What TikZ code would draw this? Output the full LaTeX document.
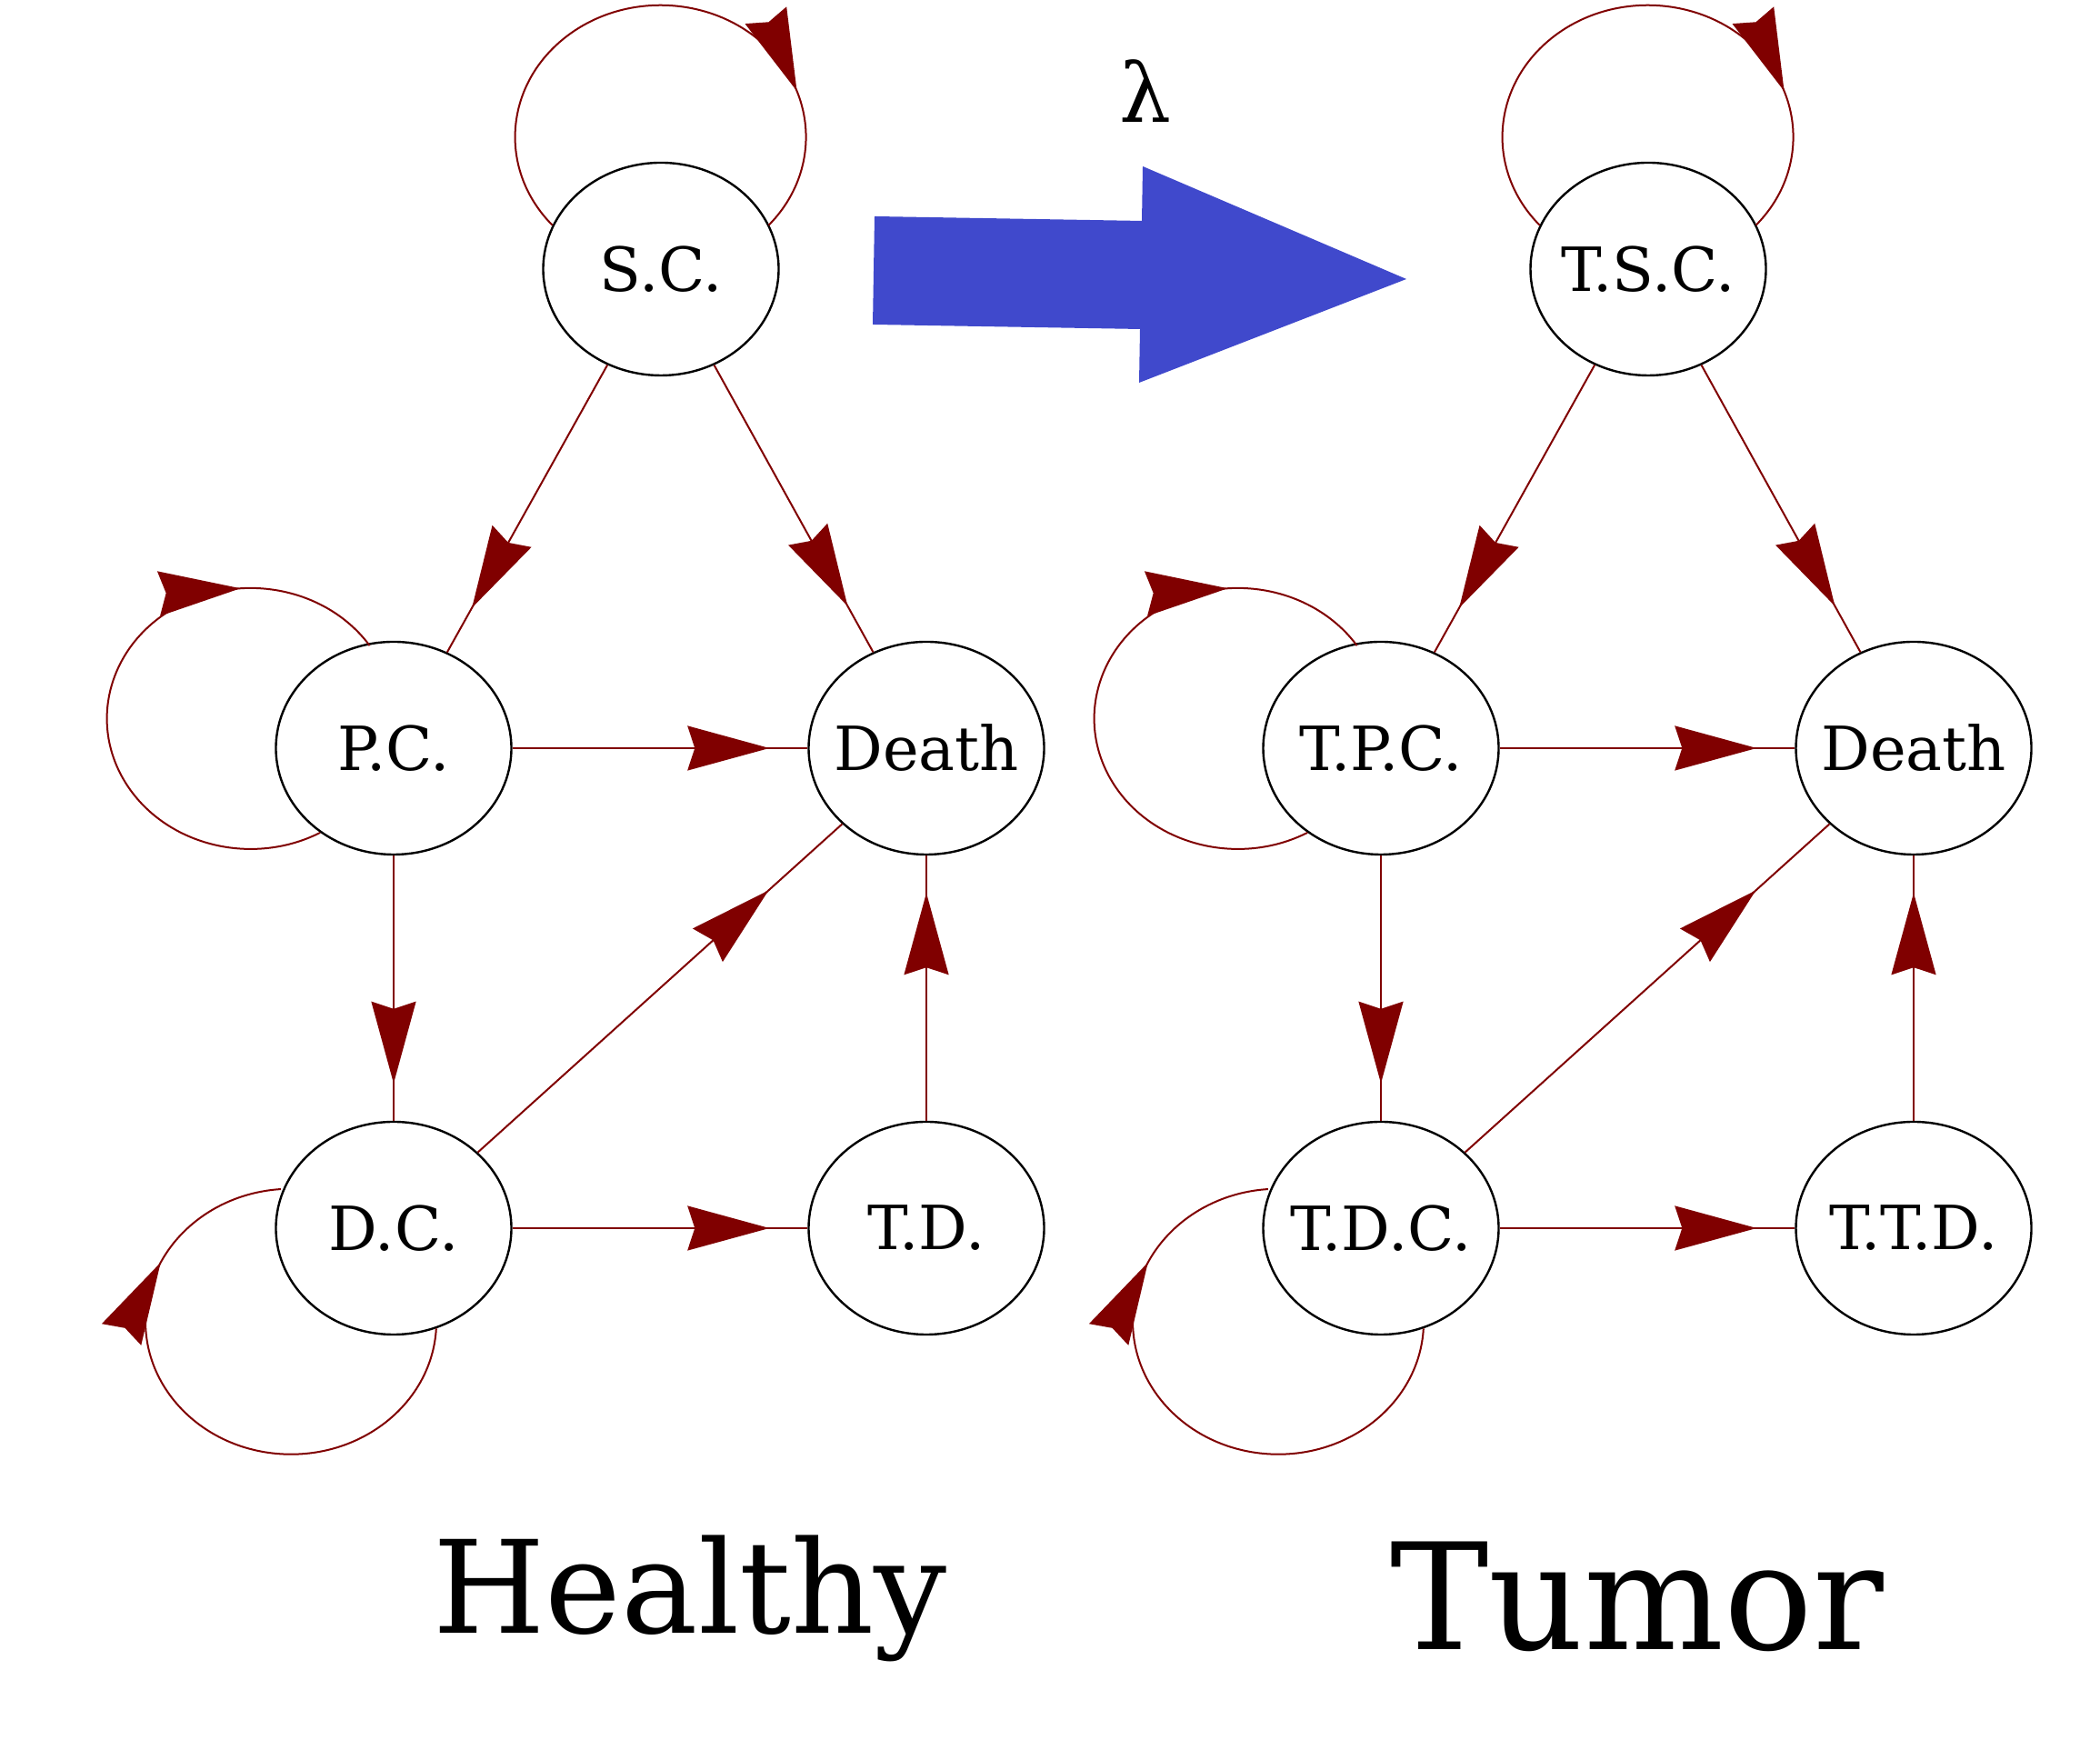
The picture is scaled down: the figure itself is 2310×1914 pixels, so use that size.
\documentclass[tikz,border=0pt]{standalone}
\usepackage{fontspec}
\setmainfont{DejaVu Serif}
\usetikzlibrary{arrows.meta, shapes.geometric, decorations.markings}
\definecolor{maroon}{RGB}{128,0,0}
\definecolor{arrowblue}{RGB}{64,73,204}
\newcommand{\cellfont}{\fontsize{33.5}{36}\selectfont}
\newcommand{\cell}[1]{\makebox[0pt]{#1}}

\begin{document}
\begin{tikzpicture}[x=0.5pt, y=0.5pt,
        >={Stealth[length=45pt, width=24.5pt, inset=4pt]},
        cell/.style={ellipse, draw, line width=1.2pt, minimum width=129.5pt,
            minimum height=117pt, inner sep=0pt, font=\cellfont},
        flow/.style={draw=maroon, line width=1pt},
        tipat/.style={postaction={decorate, decoration={markings,
            mark=at position #1 with {\arrow{>}}}}}]
    \useasboundingbox (0,0) rectangle (2310,1914);

    % healthy
    \node[cell] (sc)    at (727,1618)  {\cell{S.C.}};
    \node[cell] (pc)    at (433,1091)  {\cell{P.C.}};
    \node[cell] (death) at (1019,1091) {\cell{Death}};
    \node[cell] (dc)    at (433,563)   {\cell{D.C.}};
    \node[cell] (td)    at (1019,563)  {\cell{T.D.}};

    \draw[flow, tipat=-28pt]   (sc) -- (pc);
    \draw[flow, tipat=-29pt]   (sc) -- (death);
    \draw[flow, tipat=-21pt]   (pc) -- (death);
    \draw[flow, tipat=-20.5pt] (pc) -- (dc);
    \draw[flow, tipat=-54.5pt] (dc) -- (death);
    \draw[flow, tipat=-21pt]   (dc) -- (td);
    \draw[flow, tipat=-20.5pt] (td) -- (death);
    \draw[flow, tipat=0.77] (sc.158) arc[start angle=222, end angle=-42, x radius=160, y radius=145];
    \draw[flow, tipat=0.77] (pc.229) arc[start angle=-61, end angle=-326, x radius=158, y radius=143.5];
    \draw[flow, tipat=0.77] (dc.293) arc[start angle=-3, end angle=-266, x radius=160, y radius=146];

    % tumor
    \node[cell] (tsc)    at (1813,1618) {\cell{T.S.C.}};
    \node[cell] (tpc)    at (1519,1091) {\cell{T.P.C.}};
    \node[cell] (tdeath) at (2105,1091) {\cell{Death}};
    \node[cell] (tdc)    at (1519,563)  {\cell{T.D.C.}};
    \node[cell] (ttd)    at (2105,563)  {\cell{T.T.D.}};

    \draw[flow, tipat=-28pt]   (tsc) -- (tpc);
    \draw[flow, tipat=-29pt]   (tsc) -- (tdeath);
    \draw[flow, tipat=-21pt]   (tpc) -- (tdeath);
    \draw[flow, tipat=-20.5pt] (tpc) -- (tdc);
    \draw[flow, tipat=-54.5pt] (tdc) -- (tdeath);
    \draw[flow, tipat=-21pt]   (tdc) -- (ttd);
    \draw[flow, tipat=-20.5pt] (ttd) -- (tdeath);
    \draw[flow, tipat=0.77] (tsc.158) arc[start angle=222, end angle=-42, x radius=160, y radius=145];
    \draw[flow, tipat=0.77] (tpc.229) arc[start angle=-61, end angle=-326, x radius=158, y radius=143.5];
    \draw[flow, tipat=0.77] (tdc.293) arc[start angle=-3, end angle=-266, x radius=160, y radius=146];

    % transition
    \fill[arrowblue] (962,1676) -- (1256,1671) -- (1257,1731) -- (1547,1607)
        -- (1253,1493) -- (1254,1552) -- (960,1557) -- cycle;
    \node[font=\fontsize{45}{50}\selectfont] (lambda) at (1260,1814) {λ};

    \node[font=\fontsize{70.8}{80}\selectfont, anchor=base] (healthy) at (759,117) {Healthy};
    \node[font=\fontsize{81.3}{95}\selectfont, anchor=base] (tumor) at (1801,99) {Tumor};
\end{tikzpicture}
\end{document}
